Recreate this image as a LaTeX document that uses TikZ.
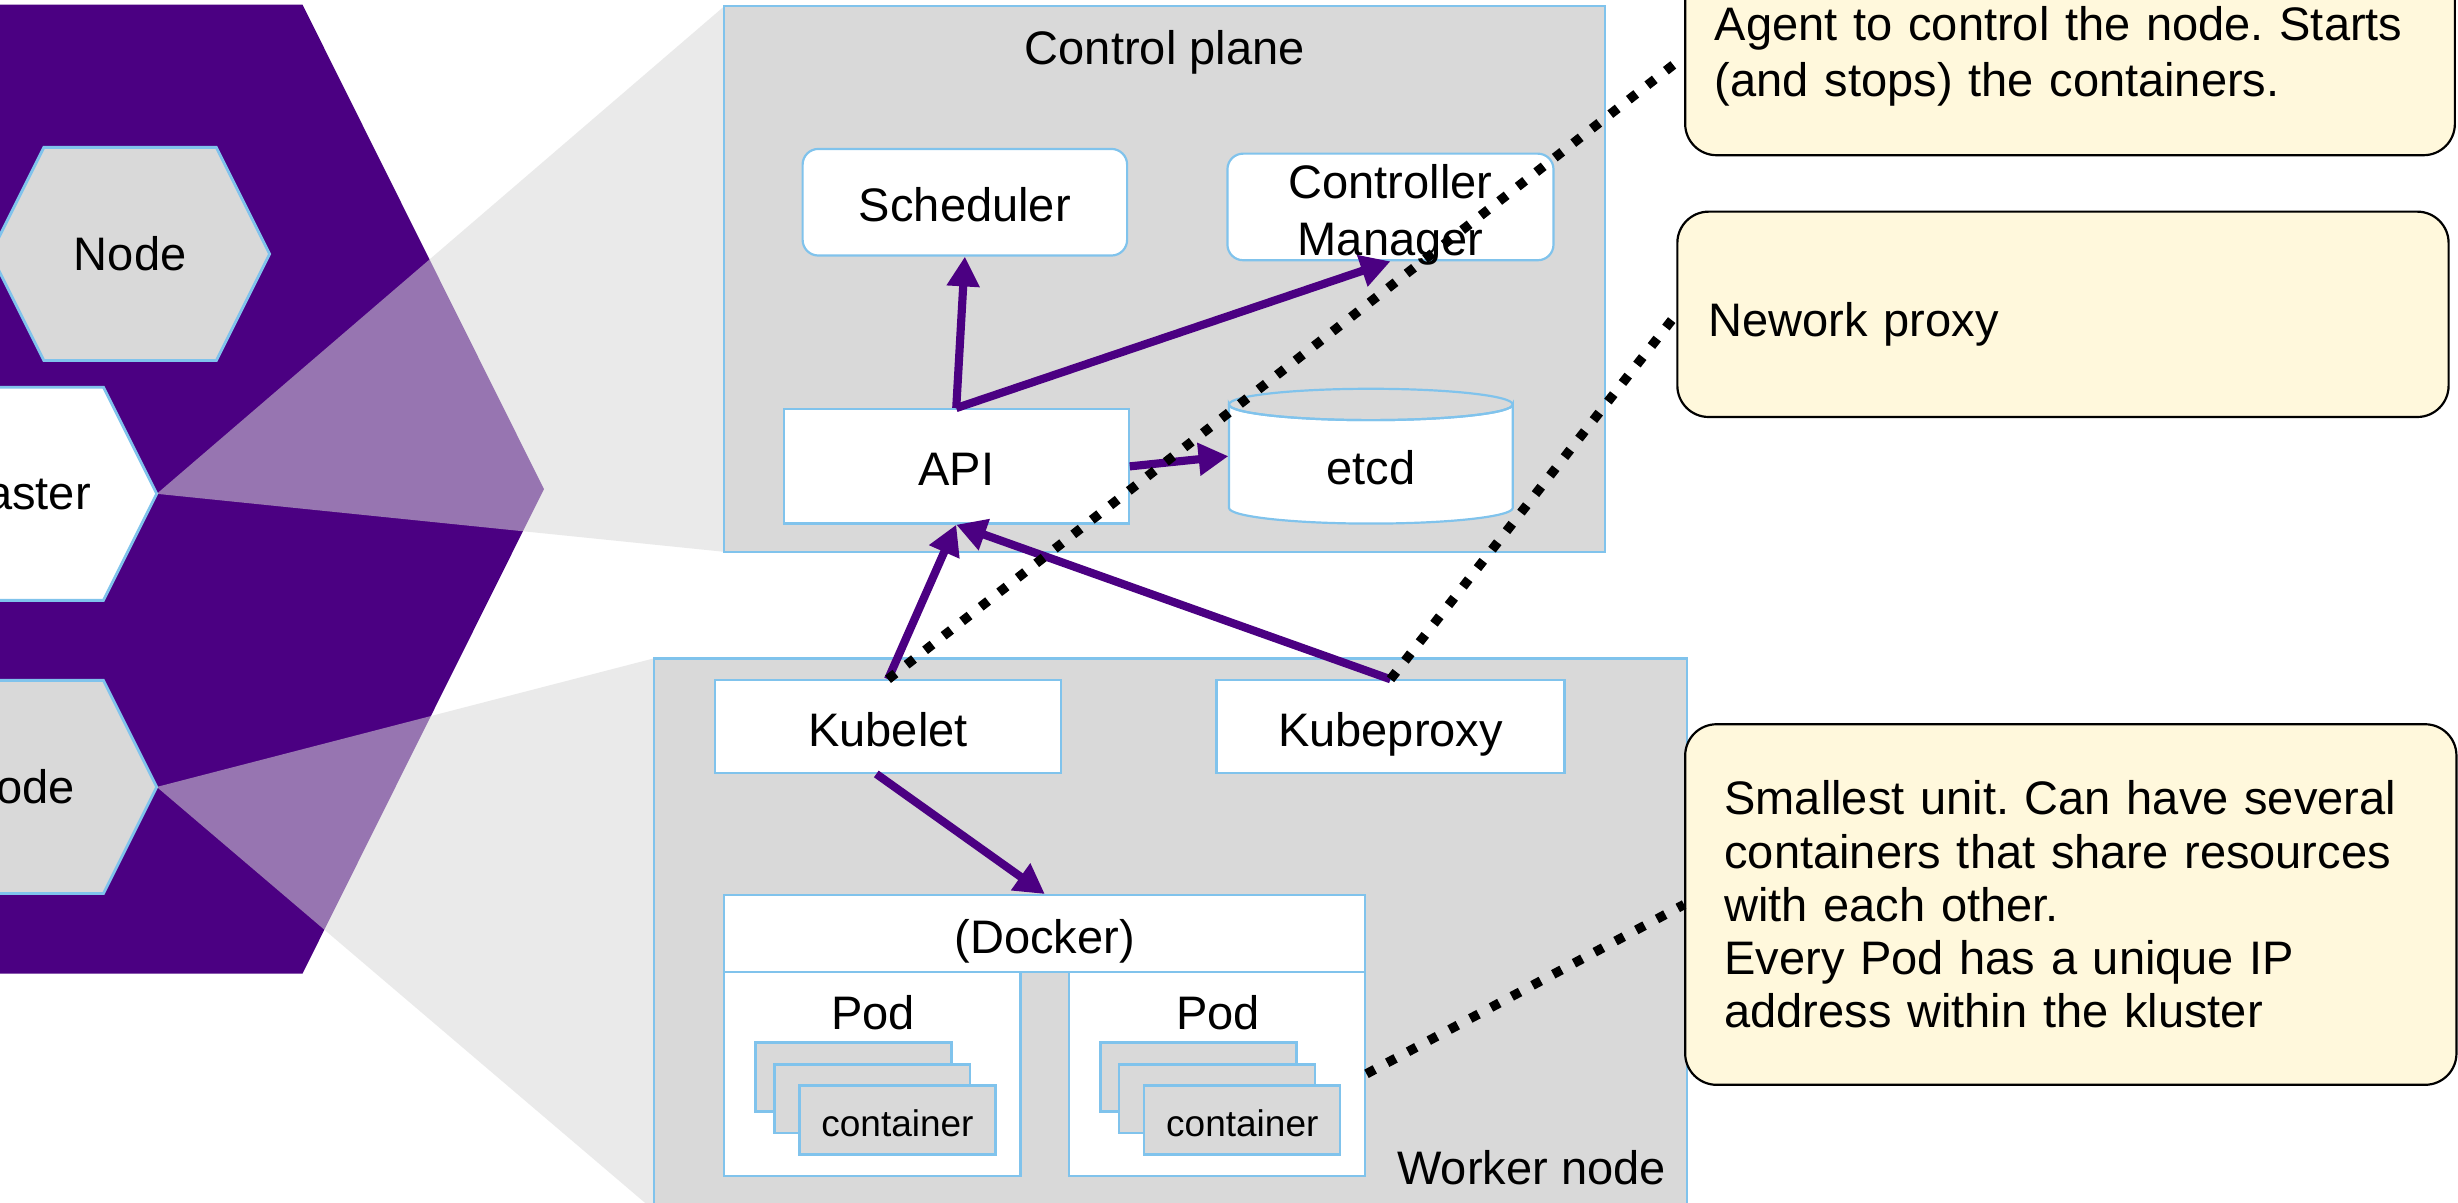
\documentclass[tikz,border=0pt]{standalone}
\usepackage{fontspec}
\setmainfont{Liberation Sans}
\usetikzlibrary{arrows.meta}
\definecolor{kpurple}{HTML}{4B0082}
\definecolor{kblue}{HTML}{80C3EC}
\definecolor{kgray}{HTML}{D9D9D9}
\definecolor{knote}{HTML}{FFF8DC}
\frenchspacing
\begin{document}
\begin{tikzpicture}[x=0.5pt,y=-0.5pt,
  every node/.style={font=\fontsize{15}{17}\selectfont, inner sep=0pt},
  ctr/.style={text height=12.5pt, text depth=0pt},
  bluebox/.style={draw=kblue, line width=0.7pt, fill=white, rectangle},
  graybox/.style={draw=kblue, line width=0.7pt, fill=kgray, rectangle},
  roundbox/.style={bluebox, rounded corners=5pt},
  hexline/.style={draw=kblue, line width=0.9pt},
  proj/.style={fill=kgray, fill opacity=0.54},
  flow/.style={draw=kpurple, line width=2.6pt, -{Triangle[length=9.5pt,width=10pt]}},
  dotline/.style={draw=black, line width=3pt, dash pattern=on 3pt off 4.5pt},
  note/.style={draw=black, line width=0.7pt, fill=knote, rounded corners=10pt, align=left},
  contbox/.style={graybox, minimum width=62.5pt, minimum height=22pt, font=\fontsize{11.8}{13}\selectfont, text height=10.4pt, text depth=0pt},
]
\clip (0,0) rectangle (1568,767);
\fill[white] (0,0) rectangle (1568,767);

% big purple hexagon
\fill[kpurple] (-400,3) -- (193,3) -- (347,312) -- (193,621) -- (-400,621) -- cycle;

% small hexagons
\draw[hexline, fill=kgray] (-6,162) -- (28,94) -- (138,94) -- (172,162) -- (138,230) -- (28,230) -- cycle;
\node (hnode1) at (83,162) {Node};
\draw[hexline, fill=white] (-77,315) -- (-43,247) -- (66,247) -- (100,315) -- (66,383) -- (-43,383) -- cycle;
\node (hmaster) at (12,315) {Master};
\draw[hexline, fill=kgray] (-77,502) -- (-43,434) -- (66,434) -- (100,502) -- (66,570) -- (-43,570) -- cycle;
\node (hnode2) at (12,502) {Node};

% projection wedges
\fill[proj] (100,315) -- (462,4) -- (462,352) -- cycle;
\fill[proj] (100,502) -- (417,420) -- (417,772) -- cycle;

% control plane
\node[graybox, minimum width=281pt, minimum height=174pt] (cp) at (743,178) {};
\node[ctr] (cptitle) at (743,28.5) {Control plane};
\node[roundbox, ctr, minimum width=103.5pt, minimum height=34pt] (sched) at (615.5,129) {Scheduler};
\node[roundbox, minimum width=104pt, minimum height=34pt] (cm) at (887,132) {};
\node[align=center, font=\fontsize{15}{18}\selectfont] (cmtext) at (887,137) {Controller\\Manager};
\node[bluebox, ctr, minimum width=110pt, minimum height=36.5pt] (api) at (610,297.5) {API};
\filldraw[draw=kblue, fill=white, line width=0.7pt] (784,258) -- (784,324)
  arc[start angle=180, end angle=360, x radius=45.25pt, y radius=5pt] -- (965,258)
  arc[start angle=0, end angle=-180, x radius=45.25pt, y radius=5pt] -- cycle;
\draw[draw=kblue, line width=0.7pt] (874.5,258) ellipse [x radius=45.25pt, y radius=5pt];
\node[minimum width=90.5pt, minimum height=43pt, text height=18pt, text depth=0pt] (etcd) at (874.5,291) {etcd};

% worker node
\node[graybox, minimum width=329.5pt, minimum height=185pt] (wk) at (746.5,605) {};
\node[anchor=east] (wktitle) at (1063,745) {Worker node};
\node[bluebox, ctr, minimum width=110.5pt, minimum height=29.5pt] (kubelet) at (566.5,463.5) {Kubelet};
\node[bluebox, ctr, minimum width=111pt, minimum height=29.5pt] (kubeproxy) at (887,463.5) {Kubeproxy};
\node[bluebox, ctr, minimum width=204.5pt, minimum height=24.5pt] (docker) at (666.5,595.5) {(Docker)};
\node[bluebox, minimum width=94.5pt, minimum height=65pt] (pod1) at (556.5,685) {};
\node (pod1t) at (557,646) {Pod};
\node[bluebox, minimum width=94.5pt, minimum height=65pt] (pod2) at (776.5,685) {};
\node (pod2t) at (777,646) {Pod};
\node[contbox] (c1a) at (544.5,687) {};
\node[contbox] (c1b) at (556.5,701) {};
\node[contbox] (c1c) at (572.5,714.5) {container};
\node[contbox] (c2a) at (764.5,687) {};
\node[contbox] (c2b) at (776.5,701) {};
\node[contbox] (c2c) at (792.5,714.5) {container};

% arrows
\draw[flow] (api.north) -- (sched.south);
\draw[flow] (api.north) -- (cm.south);
\draw[flow] (api.east) -- (etcd.west);
\draw[flow] (kubelet.north) -- (api.south);
\draw[flow] (kubeproxy.north) -- (api.south);
\draw[flow] ([xshift=-3.75pt]kubelet.south) -- (docker.north);

% notes
\node[note, minimum width=245.5pt, minimum height=63pt, text width=226.5pt, inner xsep=9.5pt, font=\fontsize{15}{18}\selectfont] (agent) at (1320.5,36) {Agent to control the node. Starts\\(and stops) the containers.};
\node[note, minimum width=246pt, minimum height=65.5pt, text width=226pt, inner xsep=10pt, text height=14pt, text depth=0pt] (net) at (1316,200.5) {Nework proxy};
\node[note, minimum width=246pt, minimum height=115pt, text width=221pt, inner xsep=12.5pt] (podnote) at (1321,577) {Smallest unit. Can have several\\containers that share resources\\with each other.\\Every Pod has a unique IP\\address within the kluster};

% dotted links
\draw[dotline] (kubelet.north) -- (agent.west);
\draw[dotline] (kubeproxy.north) -- (net.west);
\draw[dotline] (pod2.east) -- (podnote.west);
\end{tikzpicture}
\end{document}
